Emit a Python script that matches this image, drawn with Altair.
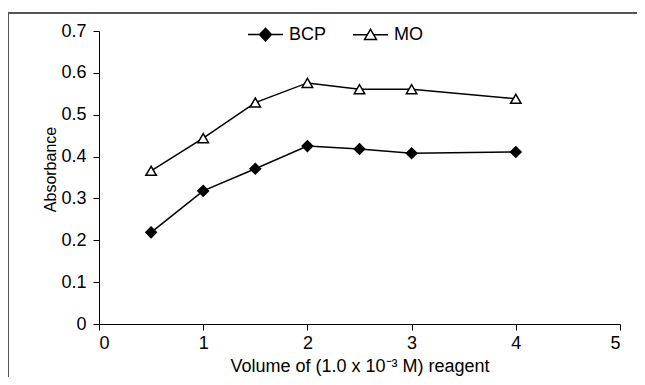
import altair as alt
import pandas as pd

volume = [0.5, 1, 1.5, 2, 2.5, 3, 4]
bcp = [0.219, 0.318, 0.371, 0.425, 0.418, 0.408, 0.411]
mo = [0.366, 0.444, 0.529, 0.576, 0.561, 0.561, 0.538]
series = ["BCP", "MO"]
x_ticks = [0, 1, 2, 3, 4, 5]
y_ticks = [0, 0.1, 0.2, 0.3, 0.4, 0.5, 0.6, 0.7]

rows = []
for s, vals in zip(series, [bcp, mo]):
    for v, a in zip(volume, vals):
        rows.append({"series": s, "volume": v, "absorbance": a})
df = pd.DataFrame(rows)

FONT = "Liberation Sans"

x = alt.X(
    "volume:Q",
    scale=alt.Scale(domain=[0, 5], nice=False),
    axis=alt.Axis(
        values=x_ticks, format="d", grid=False,
        title="Volume of (1.0 x 10\u207b\u00b3 M) reagent",
        titleBaseline="alphabetic", titleY=47,
        labelPadding=4,
    ),
)
y = alt.Y(
    "absorbance:Q",
    scale=alt.Scale(domain=[0, 0.7], nice=False),
    axis=alt.Axis(
        values=y_ticks, grid=False,
        labelExpr="datum.value == 0 ? '0' : format(datum.value, '.1f')",
        title="Absorbance", titleAngle=270, titleX=-49, titleY=138,
        titleAlign="center", titleBaseline="middle",
        labelPadding=7,
    ),
)

# legend symbols: line segment with marker
bcp_path = "M-1,0H1M-0.34,0L0,-0.36L0.34,0L0,0.36Z"
mo_path = "M-1,0H-0.19M0.19,0H1M0,-0.31L0.34,0.27L-0.34,0.27Z"

legend = alt.Legend(
    orient="none", legendX=148, legendY=-15, direction="horizontal",
    title=None, labelFontSize=18, labelFont=FONT, labelColor="black",
    labelOffset=5, columnPadding=23, padding=0, symbolSize=1225,
    symbolStrokeColor="black", symbolStrokeWidth=1.5, symbolOpacity=1,
)

border = alt.Chart(pd.DataFrame({"a": [0]})).mark_rect(
    fillOpacity=0, stroke="#555555", strokeWidth=2
).encode(
    x=alt.value(-91), x2=alt.value(570), y=alt.value(-18), y2=alt.value(420)
)

lines = alt.Chart(df).mark_line(color="black", strokeWidth=1.5).encode(
    x=x, y=y, detail="series:N"
)

pts_bcp = alt.Chart(df).transform_filter("datum.series == 'BCP'").mark_point(
    shape="diamond", filled=True, fill="black", stroke="black", strokeWidth=1.5, opacity=1, size=110
).encode(x=x, y=y)

pts_mo = alt.Chart(df).transform_filter("datum.series == 'MO'").mark_point(
    shape="triangle-up", filled=True, fill="white", stroke="black", strokeWidth=1.5, opacity=1, size=110
).encode(x=x, y=y)

legend_layer = alt.Chart(df).mark_point(
    filled=True, strokeWidth=1.5, opacity=1
).encode(
    x=alt.value(-2000), y=alt.value(-2000),
    shape=alt.Shape("series:N", scale=alt.Scale(domain=series, range=[bcp_path, mo_path]), legend=legend),
    fill=alt.Fill("series:N", scale=alt.Scale(domain=series, range=["black", "white"]), legend=legend),
    stroke=alt.Stroke("series:N", scale=alt.Scale(domain=series, range=["black", "black"]), legend=legend),
)

chart = alt.layer(border, lines, pts_bcp, pts_mo, legend_layer).properties(
    width=521, height=293,
    autosize=alt.AutoSizeParams(type="none"),
    padding={"left": 91, "top": 23, "right": 17, "bottom": 53},
).configure_view(stroke=None).configure_axis(
    domainColor="black", domainWidth=1, tickColor="black", tickSize=6, tickWidth=1,
    labelColor="black", labelFont=FONT, labelFontSize=18,
    titleColor="black", titleFont=FONT, titleFontSize=18, titleFontWeight="normal",
).configure_axisY(titleFontSize=16)

chart.save("out.html", embed_options={"renderer": "svg", "actions": False})
